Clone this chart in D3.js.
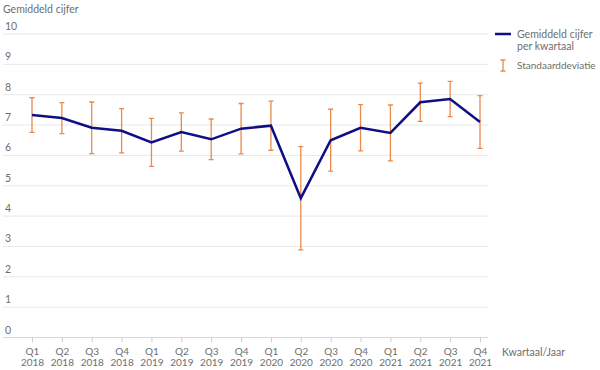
<!DOCTYPE html>
<html>
<head>
<meta charset="utf-8">
<script src="https://cdn.jsdelivr.net/npm/d3@7"></script>
<style>
  body { margin: 0; background: #fff; }
  svg text { font-family: Lato, "Noto Sans", sans-serif; fill: #6e6e6e; }
</style>
</head>
<body>
<div id="chart"></div>
<script>
// Data

var quarters = ["Q1", "Q2", "Q3", "Q4", "Q1", "Q2", "Q3", "Q4", "Q1", "Q2", "Q3", "Q4", "Q1", "Q2", "Q3", "Q4"];
var years = ["2018", "2018", "2018", "2018", "2019", "2019", "2019", "2019", "2020", "2020", "2020", "2020", "2021", "2021", "2021", "2021"];
var meanScore = [7.33, 7.23, 6.91, 6.81, 6.43, 6.77, 6.53, 6.88, 6.98, 4.59, 6.50, 6.91, 6.74, 7.75, 7.86, 7.10];
var stdDev = [0.57, 0.51, 0.85, 0.73, 0.79, 0.63, 0.67, 0.83, 0.81, 1.70, 1.02, 0.76, 0.92, 0.63, 0.58, 0.87];
var yTicks = [0, 1, 2, 3, 4, 5, 6, 7, 8, 9, 10];

var svgWidth = 600;
var svgHeight = 370;

var data = quarters.map(function (q, i) {
    return { key: q + " " + years[i], q: q, year: years[i], mean: meanScore[i], sd: stdDev[i] };
});

var svg = d3.select("#chart")
    .append("svg")
    .attr("width", svgWidth)
    .attr("height", svgHeight);

// scales
var xScale = d3.scalePoint()
    .domain(data.map(d => d.key))
    .range([32, 480]);

var yScale = d3.scaleLinear()
    .domain([0, 10])
    .range([337.5, 34]);

var gridLeft = 3;
var gridRight = 488;

// gridlines + y labels (sitting above each line)
var grid = svg.append("g");
grid.selectAll("line")
    .data(yTicks)
    .enter()
    .append("line")
    .attr("x1", gridLeft)
    .attr("x2", gridRight)
    .attr("y1", d => yScale(d))
    .attr("y2", d => yScale(d))
    .attr("stroke", d => d === 0 ? "#d6d6d6" : "#e8e8e8")
    .attr("stroke-width", 1);

grid.selectAll("text")
    .data(yTicks)
    .enter()
    .append("text")
    .attr("x", 5)
    .attr("y", d => yScale(d) - 4)
    .attr("font-size", "10.5px")
    .text(d => d);

// x axis
var xAxis = svg.append("g")
    .attr("transform", `translate(0, ${yScale(0)})`)
    .call(d3.axisBottom(xScale).tickSize(5).tickFormat(""));
xAxis.select(".domain").remove();
xAxis.selectAll(".tick line").attr("stroke", "#d0d0d0");

// two-line tick labels: quarter above year
xAxis.selectAll(".tick")
    .append("text")
    .attr("text-anchor", "middle")
    .attr("font-size", "10px")
    .attr("y", 17)
    .text(d => d.split(" ")[0]);
xAxis.selectAll(".tick")
    .append("text")
    .attr("text-anchor", "middle")
    .attr("font-size", "10px")
    .attr("y", 28)
    .text(d => d.split(" ")[1]);

svg.append("text")
    .attr("x", 502)
    .attr("y", 356)
    .attr("font-size", "10.5px")
    .text("Kwartaal/Jaar");

svg.append("text")
    .attr("x", 3)
    .attr("y", 13)
    .attr("font-size", "10.5px")
    .text("Gemiddeld cijfer");

// error bars
var errColor = "#ec8a4c";
var cap = 2.5;
var errGroup = svg.append("g")
    .attr("stroke", errColor)
    .attr("stroke-width", 1.3);

errGroup.selectAll(".err")
    .data(data)
    .enter()
    .append("path")
    .attr("fill", "none")
    .attr("d", function (d) {
        var x = xScale(d.key);
        var top = yScale(d.mean + d.sd);
        var bot = yScale(d.mean - d.sd);
        return `M${x},${top}V${bot}M${x - cap},${top}H${x + cap}M${x - cap},${bot}H${x + cap}`;
    });

// mean line
var line = d3.line()
    .x(d => xScale(d.key))
    .y(d => yScale(d.mean));

svg.append("path")
    .datum(data)
    .attr("fill", "none")
    .attr("stroke", "#0f0f85")
    .attr("stroke-width", 2.5)
    .attr("stroke-linejoin", "miter")
    .attr("d", line);

// legend
var legend = svg.append("g");
legend.append("line")
    .attr("x1", 495).attr("x2", 511)
    .attr("y1", 34).attr("y2", 34)
    .attr("stroke", "#0f0f85")
    .attr("stroke-width", 2.5);
legend.append("text").attr("x", 517).attr("y", 38).attr("font-size", "10.5px").text("Gemiddeld cijfer");
legend.append("text").attr("x", 517).attr("y", 50).attr("font-size", "10.5px").text("per kwartaal");

legend.append("path")
    .attr("d", "M503,60V71M500.5,60H505.5M500.5,71H505.5")
    .attr("stroke", errColor)
    .attr("stroke-width", 1.3)
    .attr("fill", "none");
legend.append("text").attr("x", 517).attr("y", 69).attr("font-size", "10px").text("Standaarddeviatie");
</script>
</body>
</html>
